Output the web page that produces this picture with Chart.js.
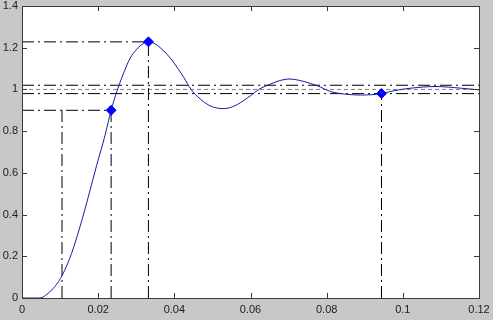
<!DOCTYPE html>
<html>
<head>
<meta charset="utf-8">
<script src="https://cdn.jsdelivr.net/npm/chart.js@4.4.1/dist/chart.umd.min.js"></script>
<style>
html,body{margin:0;padding:0;background:#c8c8c8;}
#wrap{width:493px;height:320px;}
</style>
</head>
<body>
<div id="wrap"><canvas id="c" width="493" height="320"></canvas></div>
<script>
// Step response (time, amplitude)
const timeValues = [0, 0.0045, 0.0055, 0.0068, 0.0086, 0.0106, 0.0130, 0.0152, 0.0174, 0.0196, 0.0218, 0.0234, 0.0249, 0.0265, 0.0284, 0.0300, 0.0311, 0.0332, 0.0350, 0.0363, 0.0380, 0.0398, 0.0425, 0.0444, 0.0468, 0.0490, 0.0503, 0.0525, 0.0545, 0.0565, 0.0600, 0.0622, 0.0653, 0.0680, 0.0701, 0.0732, 0.0775, 0.0810, 0.0846, 0.0889, 0.0944, 0.0977, 0.1021, 0.1087, 0.1152, 0.1200];
const responseValues = [0, 0, 0.004, 0.022, 0.054, 0.11, 0.213, 0.34, 0.484, 0.636, 0.78, 0.90, 0.99, 1.07, 1.15, 1.19, 1.21, 1.228, 1.218, 1.20, 1.17, 1.13, 1.057, 1.00, 0.954, 0.925, 0.915, 0.908, 0.912, 0.927, 0.970, 1.00, 1.026, 1.044, 1.050, 1.042, 1.018, 0.990, 0.978, 0.973, 0.980, 0.994, 1.006, 1.014, 1.006, 0.998];

// Characteristic markers: rise (90%), peak, settling
const markerTimes = [0.0234, 0.0332, 0.0944];
const markerValues = [0.90, 1.228, 0.98];

// Reference levels
const riseStartTime = 0.0105;
const riseLevel = 0.90;
const finalValue = 1.0;
const settleBand = [1.02, 0.98];

// Axis ticks
const xTicks = [0, 0.02, 0.04, 0.06, 0.08, 0.1, 0.12];
const yTicks = [0, 0.2, 0.4, 0.6, 0.8, 1, 1.2, 1.4];

const xMin = 0, xMax = 0.12, yMin = 0, yMax = 1.4;

const curve = timeValues.map((t, i) => ({x: t, y: responseValues[i]}));
const markers = markerTimes.map((t, i) => ({x: t, y: markerValues[i]}));

const dashDot = [12, 4, 2, 4];
function refLine(points, dash, color) {
  return {
    type: 'line', data: points, borderColor: color || '#000', borderWidth: 1,
    borderDash: dash, pointRadius: 0, fill: false, tension: 0, order: 3
  };
}

const refs = [
  // rise time lines
  refLine([{x: xMin, y: riseLevel}, {x: markerTimes[0], y: riseLevel}], dashDot),
  refLine([{x: markerTimes[0], y: yMin}, {x: markerTimes[0], y: riseLevel}], dashDot),
  refLine([{x: riseStartTime, y: yMin}, {x: riseStartTime, y: riseLevel}], dashDot),
  // peak lines
  refLine([{x: xMin, y: markerValues[1]}, {x: markerTimes[1], y: markerValues[1]}], dashDot),
  refLine([{x: markerTimes[1], y: yMin}, {x: markerTimes[1], y: markerValues[1]}], dashDot),
  // settling band
  refLine([{x: xMin, y: settleBand[0]}, {x: xMax, y: settleBand[0]}], dashDot),
  refLine([{x: xMin, y: settleBand[1]}, {x: xMax, y: settleBand[1]}], dashDot),
  refLine([{x: markerTimes[2], y: yMin}, {x: markerTimes[2], y: markerValues[2]}], dashDot),
  // final value
  refLine([{x: xMin, y: finalValue}, {x: xMax, y: finalValue}], [4, 3], '#808080')
];

const framePlugin = {
  id: 'frame',
  beforeDraw(chart) {
    const ctx = chart.ctx, a = chart.chartArea;
    ctx.save();
    ctx.fillStyle = '#c8c8c8';
    ctx.fillRect(0, 0, chart.width, chart.height);
    ctx.fillStyle = '#ffffff';
    ctx.fillRect(a.left, a.top, a.right - a.left, a.bottom - a.top);
    ctx.restore();
  },
  afterDraw(chart) {
    const ctx = chart.ctx, a = chart.chartArea;
    const xs = chart.scales.x, ys = chart.scales.y;
    const L = 5;
    ctx.save();
    ctx.strokeStyle = '#3a3a3a';
    ctx.lineWidth = 1;
    ctx.strokeRect(Math.round(a.left) + 0.5, Math.round(a.top) + 0.5, Math.round(a.right - a.left), Math.round(a.bottom - a.top));
    ctx.beginPath();
    xTicks.forEach(v => {
      const px = Math.round(xs.getPixelForValue(v)) + 0.5;
      ctx.moveTo(px, a.bottom); ctx.lineTo(px, a.bottom - L);
      ctx.moveTo(px, a.top); ctx.lineTo(px, a.top + L);
    });
    yTicks.forEach(v => {
      const py = Math.round(ys.getPixelForValue(v)) + 0.5;
      ctx.moveTo(a.left, py); ctx.lineTo(a.left + L, py);
      ctx.moveTo(a.right, py); ctx.lineTo(a.right - L, py);
    });
    ctx.stroke();
    ctx.restore();
  }
};

new Chart(document.getElementById('c'), {
  type: 'line',
  data: {
    datasets: [
      {
        data: markers, showLine: false, pointStyle: 'rectRot', pointRadius: 5,
        pointBackgroundColor: '#0000ff', pointBorderColor: '#0000ff', pointBorderWidth: 1, order: 0
      },
      {
        data: curve, borderColor: '#1a1aa0', borderWidth: 1, pointRadius: 0,
        cubicInterpolationMode: 'monotone', fill: false, order: 1
      },
      ...refs
    ]
  },
  options: {
    responsive: false,
    animation: false,
    devicePixelRatio: 1,
    layout: {padding: {left: 0, right: 14, top: 5, bottom: 0}},
    plugins: {legend: {display: false}, tooltip: {enabled: false}},
    scales: {
      x: {
        type: 'linear', min: xMin, max: xMax,
        afterFit(s) { s.height = 22; s.paddingLeft = 0; s.paddingRight = 0; },
        afterBuildTicks(s) { s.ticks = xTicks.map(v => ({value: v})); },
        grid: {display: false, drawTicks: false, tickLength: 0}, border: {display: false},
        ticks: {color: '#202020', padding: 5, maxRotation: 0, font: {family: 'Liberation Sans', size: 11},
          callback: v => String(+v.toFixed(2))}
      },
      y: {
        type: 'linear', min: yMin, max: yMax,
        afterFit(s) { s.width = 22; s.paddingTop = 0; s.paddingBottom = 0; },
        afterBuildTicks(s) { s.ticks = yTicks.map(v => ({value: v})); },
        grid: {display: false, drawTicks: false, tickLength: 0}, border: {display: false},
        ticks: {color: '#202020', padding: 4, font: {family: 'Liberation Sans', size: 11},
          callback: v => String(+v.toFixed(1))}
      }
    }
  },
  plugins: [framePlugin]
});
</script>
</body>
</html>
